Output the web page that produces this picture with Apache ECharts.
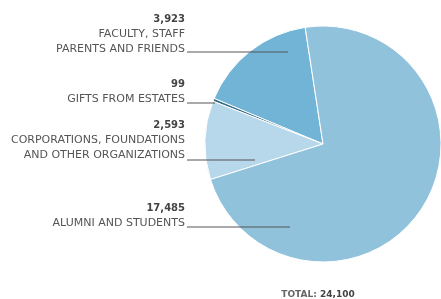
<!DOCTYPE html>
<html>
<head>
<meta charset="utf-8">
<style>
  html, body { margin: 0; padding: 0; background: #fff; }
  #chart { width: 441px; height: 299px; }
</style>
<script src="https://cdn.jsdelivr.net/npm/echarts@6/dist/echarts.min.js"></script>
</head>
<body>
<div id="chart"></div>
<script>
// gift sources, in the order they go round the pie (counter-clockwise from top)
const categories = [
  "FACULTY, STAFF\nPARENTS AND FRIENDS",
  "GIFTS FROM ESTATES",
  "CORPORATIONS, FOUNDATIONS\nAND OTHER ORGANIZATIONS",
  "ALUMNI AND STUDENTS"
];
const values = [3923, 99, 2593, 17485];
const totalText = "24,100";

const colors = ["#72b4d6", "#3b6f8a", "#b6d8ea", "#91c2dc"];

// where each label sits: text bottom y, leader line y and where the line stops
const labelBottom = [57, 107, 163, 231];
const lineY = [52, 103, 160, 227];
const lineEndX = [288, 215, 255, 290];
const textRight = 185;

const pieBase = {
  type: "pie",
  center: [323, 144],
  radius: 118,
  startAngle: 98.7,
  clockwise: false,
  silent: true,
  avoidLabelOverlap: false
};

let myChart = echarts.init(document.getElementById("chart"));
myChart.setOption({
  animation: false,
  title: {
    text: "{a|TOTAL: }{b|" + totalText + "}",
    left: 313,
    top: 285,
    textAlign: "center",
    textStyle: {
      rich: {
        a: { fontFamily: "DejaVu Sans", fontSize: 9, color: "#666" },
        b: { fontFamily: "DejaVu Sans", fontSize: 9, fontWeight: "bold", color: "#444" }
      }
    }
  },
  series: [
    Object.assign({}, pieBase, {
      z: 2,
      itemStyle: { borderColor: "#fff", borderWidth: 1 },
      label: { show: false },
      labelLine: { show: false },
      data: categories.map((c, i) => ({ name: c, value: values[i], itemStyle: { color: colors[i] } }))
    }),
    // same slices, invisible, only to carry the labels and leader lines above the pie
    Object.assign({}, pieBase, {
      z: 5,
      itemStyle: { color: "rgba(0,0,0,0)", borderWidth: 0 },
      label: {
        show: true,
        position: "outside",
        formatter: p => "{v|" + p.value.toLocaleString("en-US") + "}\n{n|" + p.name + "}",
        rich: {
          v: { fontFamily: "DejaVu Sans", fontSize: 10, fontWeight: "bold", color: "#444", lineHeight: 15, align: "right" },
          n: { fontFamily: "DejaVu Sans", fontSize: 11, color: "#555", lineHeight: 15, align: "right" }
        }
      },
      labelLine: { show: true, lineStyle: { color: "#555", width: 1 } },
      labelLayout: p => {
        const i = p.dataIndex;
        return {
          x: textRight,
          y: labelBottom[i],
          align: "right",
          verticalAlign: "bottom",
          labelLinePoints: [[textRight + 2, lineY[i]], [lineEndX[i], lineY[i]], [lineEndX[i], lineY[i]]]
        };
      },
      data: categories.map((c, i) => ({ name: c, value: values[i] }))
    })
  ]
});
</script>
</body>
</html>
